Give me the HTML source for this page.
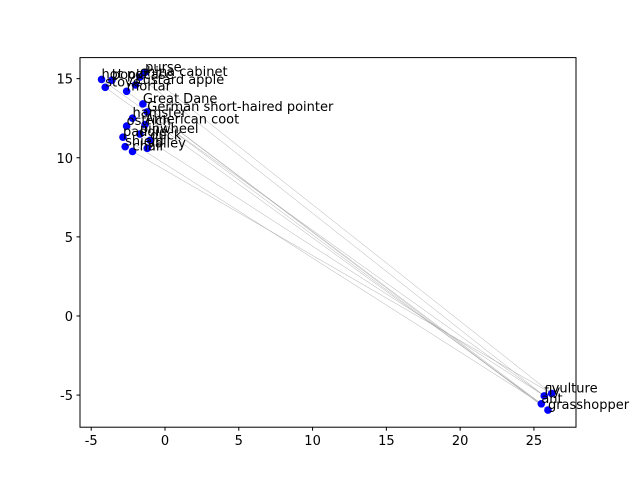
<!DOCTYPE html>
<html><head><meta charset="utf-8"><style>
body{margin:0;background:#fff}
text{font-family:"DejaVu Sans","Liberation Sans",sans-serif}
</style></head><body>
<svg id="c" width="640" height="480"></svg>
<script>
const labels=["hot pot","stove","bookcase","purse","china cabinet","custard apple","mortar","Great Dane","German short-haired pointer","hamster","ostrich","American coot","pinwheel","paddle","duck","shield","chair","valley","fly","vulture","ant","grasshopper"];
const xs=[-4.3,-4.05,-3.6,-1.35,-1.7,-2.0,-2.6,-1.5,-1.2,-2.2,-2.6,-1.35,-1.7,-2.85,-1.0,-2.7,-2.2,-1.2,25.7,26.2,25.5,25.95];
const ys=[14.95,14.45,14.9,15.4,15.1,14.6,14.2,13.4,12.9,12.5,12.0,12.1,11.5,11.3,11.1,10.7,10.4,10.6,-5.05,-4.9,-5.55,-5.95];
const edges=[[0,18],[1,20],[3,19],[4,18],[6,20],[7,21],[10,18],[13,20],[16,19],[8,21]];
const xticks=[-5,0,5,10,15,20,25];
const yticks=[-5,0,5,10,15];
const L=80,R=576,T=57.6,B=427.2,x0=-5.76,x1=27.85,y0=-7.03,y1=16.33;
const X=v=>L+(v-x0)/(x1-x0)*(R-L), Y=v=>B-(v-y0)/(y1-y0)*(B-T);
const s=document.getElementById('c'),NS='http://www.w3.org/2000/svg';
function mk(t,a,p){const e=document.createElementNS(NS,t);for(const k in a)e.setAttribute(k,a[k]);(p||s).appendChild(e);return e;}
edges.forEach(([a,b])=>{const e=mk('line',{x1:X(xs[a]),y1:Y(ys[a]),x2:X(xs[b]),y2:Y(ys[b]),stroke:'#999','stroke-width':0.5,'stroke-opacity':0.8});

});
xs.forEach((v,i)=>{const c=mk('circle',{cx:X(v),cy:Y(ys[i]),r:3.8,fill:'#0000ff'});

});
xs.forEach((v,i)=>{const t=mk('text',{x:X(v),y:Y(ys[i])-1,'font-size':13,fill:'#000'});t.textContent=labels[i];

});
const fr=mk('rect',{x:L,y:T,width:R-L,height:B-T,fill:'none',stroke:'#000','stroke-width':1});


xticks.forEach(v=>{mk('line',{x1:X(v),x2:X(v),y1:B,y2:B+3.5,stroke:'#000'});const t=mk('text',{x:X(v),y:B+18,'font-size':13,'text-anchor':'middle'});t.textContent=v;

});
yticks.forEach(v=>{mk('line',{x1:L-3.5,x2:L,y1:Y(v),y2:Y(v),stroke:'#000'});const t=mk('text',{x:L-7,y:Y(v)+5,'font-size':13,'text-anchor':'end'});t.textContent=v;

});
</script></body></html>
